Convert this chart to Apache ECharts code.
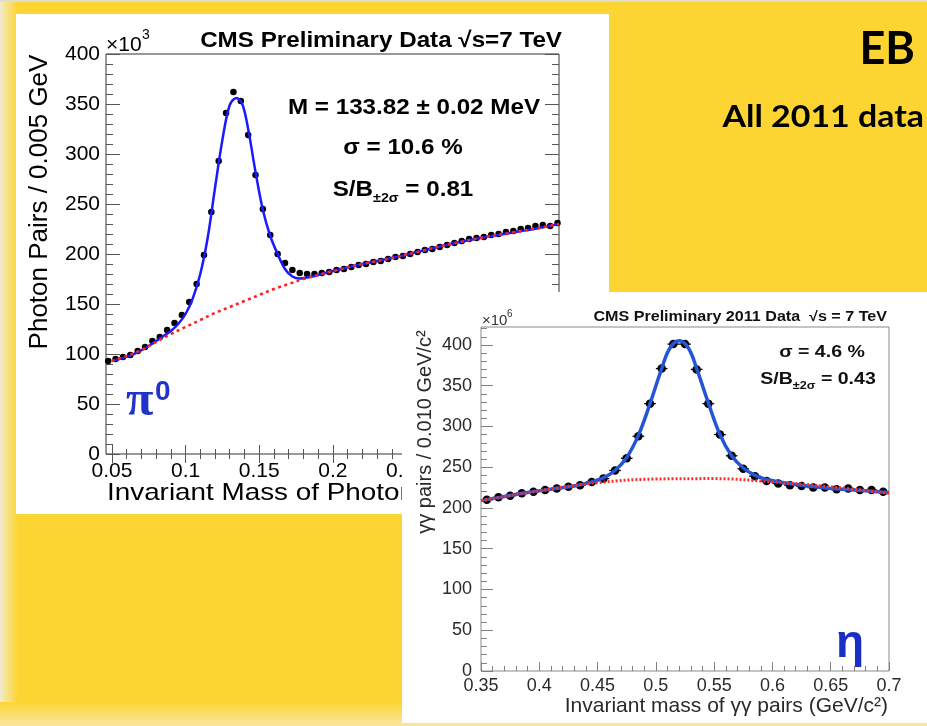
<!DOCTYPE html>
<html>
<head>
<meta charset="utf-8">
<script src="https://cdn.jsdelivr.net/npm/echarts@6/dist/echarts.min.js"></script>
<style>
  html, body { margin: 0; padding: 0; background: #fcd533; overflow: hidden; }
  #main { position: absolute; left: 0; top: 0; width: 927px; height: 726px; }
  #eta { position: absolute; left: 402px; top: 292px; width: 525px; height: 431px; background: #fff; }
</style>
</head>
<body>
<div id="main"></div>
<div id="eta"></div>
<script>
// ---- pi0 panel (EB, photon pairs per 0.005 GeV, x10^3) ----
const pi0Mass = [
  0.0475, 0.0525, 0.0575, 0.0625, 0.0675, 0.0725, 0.0775, 0.0825, 0.0875, 0.0925,
  0.0975, 0.1025, 0.1075, 0.1125, 0.1175, 0.1225, 0.1275, 0.1325, 0.1375, 0.1425,
  0.1475, 0.1525, 0.1575, 0.1625, 0.1675, 0.1725, 0.1775, 0.1825, 0.1875, 0.1925,
  0.1975, 0.2025, 0.2075, 0.2125, 0.2175, 0.2225, 0.2275, 0.2325, 0.2375, 0.2425,
  0.2475, 0.2525, 0.2575, 0.2625, 0.2675, 0.2725, 0.2775, 0.2825, 0.2875, 0.2925,
  0.2975, 0.3025, 0.3075, 0.3125, 0.3175, 0.3225, 0.3275, 0.3325, 0.3375, 0.3425,
  0.3475, 0.3525
];
const pi0Pairs = [
  93, 95, 97, 99, 103, 107, 113, 117, 124, 131,
  139, 152, 170, 199, 242, 293, 341, 362, 353, 319,
  279, 245, 219, 200, 191, 184, 181, 180, 180, 181,
  182, 184, 185, 187, 189, 190, 192, 193, 195, 197,
  198, 200, 202, 204, 205, 207, 209, 211, 213, 215,
  216, 217, 219, 220, 222, 223, 225, 226, 228, 229,
  228, 231
];
// fit (signal + background)
const pi0FitMass = [
  0.05, 0.055, 0.065, 0.075, 0.085, 0.09, 0.095, 0.1, 0.105, 0.11,
  0.115, 0.12, 0.125, 0.13, 0.1345, 0.1385, 0.1425, 0.1475, 0.1525, 0.1575,
  0.1625, 0.1675, 0.1725, 0.1775, 0.1825, 0.19, 0.2, 0.22, 0.24, 0.26,
  0.28, 0.3, 0.32, 0.34, 0.3535
];
const pi0FitPairs = [
  93, 95, 100, 108, 118, 123, 130, 140, 156, 180,
  216, 266, 314, 349, 356, 350, 325, 282, 244, 218,
  200, 185, 177.5, 175.5, 176.5, 179, 183, 190, 196, 203,
  210, 216, 221, 226, 230
];
// background only
const pi0BkgMass = [
  0.05, 0.06, 0.07, 0.08, 0.09, 0.1, 0.11, 0.12, 0.13, 0.14,
  0.15, 0.16, 0.17, 0.18, 0.19, 0.2, 0.22, 0.24, 0.26, 0.28,
  0.3, 0.32, 0.34, 0.3535
];
const pi0BkgPairs = [
  93, 98, 104, 112, 120, 127, 134, 141, 147, 153,
  159, 165, 170, 175, 179, 183, 190, 196, 203, 210,
  216, 221, 226, 230
];
const pi0XTicks = [0.05, 0.1, 0.15, 0.2, 0.25, 0.3, 0.35];
const pi0YTicks = [0, 50, 100, 150, 200, 250, 300, 350, 400];

// ---- eta panel (gamma gamma pairs per 0.010 GeV/c2, x10^6) ----
const etaMass = [
  0.355, 0.365, 0.375, 0.385, 0.395, 0.405, 0.415, 0.425, 0.435, 0.445,
  0.455, 0.465, 0.475, 0.485, 0.495, 0.505, 0.515, 0.525, 0.535, 0.545,
  0.555, 0.565, 0.575, 0.585, 0.595, 0.605, 0.615, 0.625, 0.635, 0.645,
  0.655, 0.665, 0.675, 0.685, 0.695
];
const etaPairs = [
  210, 213, 215, 218, 220, 222, 224, 226, 228, 232,
  236, 246, 261, 288, 328, 371, 401, 401, 370, 328,
  290, 264, 248, 239, 233, 230, 228, 227, 225, 225,
  223, 224, 222, 222, 220
];
const etaFitMass = [
  0.35, 0.37, 0.39, 0.41, 0.43, 0.445, 0.455, 0.465, 0.475, 0.485,
  0.495, 0.505, 0.512, 0.52, 0.528, 0.535, 0.545, 0.555, 0.565, 0.575,
  0.585, 0.595, 0.61, 0.63, 0.65, 0.67, 0.69, 0.7
];
const etaFitPairs = [
  209, 214, 219, 223, 227, 232, 237, 246, 262, 289,
  328, 371, 396, 405, 396, 371, 329, 290, 264, 249,
  240, 235, 231, 227, 224, 222, 220, 219
];
const etaBkgMass = [0.35, 0.4, 0.45, 0.5, 0.55, 0.6, 0.65, 0.7];
const etaBkgPairs = [209, 221, 231, 235.5, 236, 232, 226, 218];
const etaXTicks = [0.35, 0.4, 0.45, 0.5, 0.55, 0.6, 0.65, 0.7];
const etaYTicks = [0, 50, 100, 150, 200, 250, 300, 350, 400];
const etaHalfBin = 0.005;

const SANS = '"Liberation Sans", Arial, Helvetica, sans-serif';
const fmt = v => String(Math.round(v * 100) / 100);

function minorTicks(lo, hi, step) {
  const out = [];
  for (let k = 0; lo + k * step <= hi + 1e-9; k++) out.push(+(lo + k * step).toFixed(4));
  return out;
}

function pairs(xs, ys) {
  return xs.map((x, i) => [x, ys[i]]);
}

// one axis = one tick set; majors and minors are stacked on the same side
function tickAxis(pos, min, max, ticks, len, color, label) {
  return {
    type: 'value', position: pos, min: min, max: max,
    axisLine: { show: false },
    splitLine: { show: false },
    axisTick: { show: true, inside: true, length: len, customValues: ticks, lineStyle: { color: color, width: 1 } },
    axisLabel: label ? Object.assign({ customValues: ticks, formatter: fmt }, label) : { show: false }
  };
}

function txt(x, y, text, size, extra) {
  extra = extra || {};
  const el = {
    type: 'text', x: x, y: y, z: 10,
    style: Object.assign({ text: text, fontFamily: SANS, fontSize: size, fill: '#000', align: 'left', verticalAlign: 'middle' }, extra.style || {})
  };
  if (extra.scaleX) el.scaleX = extra.scaleX;
  if (extra.rotation) el.rotation = extra.rotation;
  return el;
}

// ================= chart 1: page + pi0 =================
const pi0Min = 0.046, pi0Max = 0.3535;
const pi0TickCol = '#555';
const pi0Label = { fontSize: 21, color: '#000', fontFamily: SANS };
const GEO = 'Lato, "DejaVu Sans", sans-serif';

const main = echarts.init(document.getElementById('main'));
main.setOption({
  animation: false,
  graphic: [
    { type: 'rect', z: -20, shape: { x: 0, y: 0, width: 927, height: 726 }, style: { fill: '#fcd533' } },
    { type: 'rect', z: -19, shape: { x: 0, y: 0, width: 18, height: 726 },
      style: { fill: new echarts.graphic.LinearGradient(0, 0, 1, 0, [
        { offset: 0, color: '#efe9d6' }, { offset: 0.2, color: '#f7e6a3' }, { offset: 1, color: '#fcd533' }]) } },
    { type: 'rect', z: -19, shape: { x: 0, y: 702, width: 927, height: 24 },
      style: { fill: new echarts.graphic.LinearGradient(0, 0, 0, 1, [
        { offset: 0, color: '#fcd533' }, { offset: 1, color: '#f8e6a2' }]) } },
    { type: 'rect', z: -18, shape: { x: 0, y: 0, width: 927, height: 2 }, style: { fill: '#e2dccb' } },
    { type: 'rect', z: -15, shape: { x: 16, y: 14, width: 593, height: 500 }, style: { fill: '#ffffff' } },

    txt(562, 41, 'CMS Preliminary Data \u221As=7 TeV', 22, { scaleX: 1.1, style: { fontWeight: 'bold', align: 'right' } }),
    txt(106, 45, '\u00D710', 21),
    txt(142, 35, '3', 14),
    txt(414, 108, 'M = 133.82 \u00B1 0.02 MeV', 22, { scaleX: 1.1, style: { fontWeight: 'bold', align: 'center' } }),
    txt(403, 148, '\u03C3 = 10.6 %', 22, { scaleX: 1.1, style: { fontWeight: 'bold', align: 'center' } }),
    txt(403, 190, '{m|S/B}{s|\u00B12\u03C3}{m| = 0.81}', 22, { scaleX: 1.1, style: { fontWeight: 'bold', align: 'center',
      rich: { m: { fontSize: 22, fontWeight: 'bold', fontFamily: SANS, lineHeight: 30, verticalAlign: 'middle' },
              s: { fontSize: 13, fontWeight: 'bold', fontFamily: SANS, lineHeight: 30, verticalAlign: 'bottom' } } } }),
    txt(126, 402, '\u03C0', 50, { style: { fill: '#2233cc', fontWeight: 'bold', fontFamily: '"Liberation Serif", "DejaVu Serif", serif' } }),
    txt(155, 392, '0', 28, { style: { fill: '#2233cc', fontWeight: 'bold' } }),
    txt(40, 202, 'Photon Pairs / 0.005 GeV', 26, { rotation: Math.PI / 2, style: { align: 'center' } }),
    txt(107, 493, 'Invariant Mass of Photon Pairs (GeV)', 24, { scaleX: 1.16 }),

    txt(915, 49, 'EB', 45, { style: { fontWeight: 'bold', fontFamily: GEO, align: 'right' } }),
    txt(924, 117, 'All 2011 data', 30, { scaleX: 1.13, style: { fontWeight: 'bold', fontFamily: GEO, align: 'right' } })
  ],
  grid: { left: 106, top: 54, width: 453, height: 400, show: true, borderColor: '#333', borderWidth: 1, backgroundColor: 'transparent', outerBoundsMode: 'none' },
  xAxis: [
    tickAxis('bottom', pi0Min, pi0Max, pi0XTicks, 9, pi0TickCol, Object.assign({ margin: 7 }, pi0Label)),
    tickAxis('bottom', pi0Min, pi0Max, minorTicks(0.05, 0.35, 0.01), 5, pi0TickCol),
    tickAxis('top', pi0Min, pi0Max, pi0XTicks, 9, pi0TickCol),
    tickAxis('top', pi0Min, pi0Max, minorTicks(0.05, 0.35, 0.01), 5, pi0TickCol)
  ],
  yAxis: [
    tickAxis('left', 0, 400, pi0YTicks, 14, pi0TickCol, Object.assign({ margin: 6 }, pi0Label)),
    tickAxis('left', 0, 400, minorTicks(0, 400, 10), 7, pi0TickCol),
    tickAxis('right', 0, 400, pi0YTicks, 14, pi0TickCol),
    tickAxis('right', 0, 400, minorTicks(0, 400, 10), 7, pi0TickCol)
  ],
  series: [
    { type: 'scatter', name: 'data', data: pairs(pi0Mass, pi0Pairs), symbolSize: 6.5,
      itemStyle: { color: '#000', opacity: 1 }, z: 3 },
    { type: 'line', name: 'fit', data: pairs(pi0FitMass, pi0FitPairs), smooth: 0.35, showSymbol: false,
      lineStyle: { color: '#1a1aff', width: 2.5 }, z: 4 },
    { type: 'line', name: 'background', data: pairs(pi0BkgMass, pi0BkgPairs), smooth: 0.35, showSymbol: false,
      lineStyle: { color: '#ff2020', width: 2.6, type: [3, 3.5] }, z: 5 }
  ]
});

// ================= chart 2: eta inset =================
const etaTickCol = '#808080';
const etaLabel = { fontSize: 18, color: '#2a2a2a', fontFamily: SANS };

const eta = echarts.init(document.getElementById('eta'));
eta.setOption({
  animation: false,
  graphic: [
    txt(485, 25, 'CMS Preliminary 2011 Data  \u221As = 7 TeV', 14, { scaleX: 1.15, style: { fontWeight: 'bold', align: 'right', fill: '#111' } }),
    txt(80, 29, '\u00D710', 15, { style: { fill: '#333' } }),
    txt(105, 22, '6', 10, { style: { fill: '#333' } }),
    txt(420, 60, '\u03C3 = 4.6 %', 17, { scaleX: 1.15, style: { fontWeight: 'bold', align: 'center', fill: '#111' } }),
    txt(416, 87, '{m|S/B}{s|\u00B12\u03C3}{m| = 0.43}', 17, { scaleX: 1.15, style: { fontWeight: 'bold', align: 'center', fill: '#111',
      rich: { m: { fontSize: 17, fontWeight: 'bold', fontFamily: SANS, lineHeight: 24, verticalAlign: 'middle' },
              s: { fontSize: 11, fontWeight: 'bold', fontFamily: SANS, lineHeight: 24, verticalAlign: 'bottom' } } } }),
    txt(448, 352, '\u03B7', 46, { style: { fill: '#1b2fc4', align: 'center', fontWeight: 'bold' } }),
    txt(23, 140, '\u03B3\u03B3 pairs / 0.010 GeV/c\u00B2', 20, { rotation: Math.PI / 2, style: { align: 'center', fill: '#2a2a2a' } }),
    txt(486, 414, 'Invariant mass of \u03B3\u03B3 pairs (GeV/c\u00B2)', 21, { style: { align: 'right', fill: '#2a2a2a' } })
  ],
  grid: { left: 79, top: 35, width: 408, height: 344, show: true, borderColor: '#8a8a8a', borderWidth: 1, backgroundColor: 'transparent', outerBoundsMode: 'none' },
  xAxis: [
    tickAxis('bottom', 0.35, 0.7, etaXTicks, 9, etaTickCol, Object.assign({ margin: 6 }, etaLabel)),
    tickAxis('bottom', 0.35, 0.7, minorTicks(0.35, 0.7, 0.01), 5, etaTickCol)
  ],
  yAxis: [
    tickAxis('left', 0, 422, etaYTicks, 12, etaTickCol, Object.assign({ margin: 9 }, etaLabel)),
    tickAxis('left', 0, 422, minorTicks(0, 420, 10), 6, etaTickCol)
  ],
  series: [
    { type: 'custom', name: 'bin width', data: pairs(etaMass, etaPairs), z: 3,
      renderItem: (params, api) => {
        const m = api.value(0), v = api.value(1);
        const a = api.coord([m - etaHalfBin, v]);
        const b = api.coord([m + etaHalfBin, v]);
        return { type: 'line', shape: { x1: a[0], y1: a[1], x2: b[0], y2: b[1] }, style: { stroke: '#000', lineWidth: 1.3 } };
      } },
    { type: 'scatter', name: 'data', data: pairs(etaMass, etaPairs), symbolSize: 8.5,
      itemStyle: { color: '#000', opacity: 1 }, z: 4 },
    { type: 'line', name: 'fit', data: pairs(etaFitMass, etaFitPairs), smooth: 0.4, showSymbol: false,
      lineStyle: { color: '#2455d6', width: 3.5 }, z: 5 },
    { type: 'line', name: 'background', data: pairs(etaBkgMass, etaBkgPairs), smooth: 0.4, showSymbol: false,
      lineStyle: { color: '#ff2a2a', width: 3, type: [2, 2] }, z: 6 }
  ]
});
</script>
</body>
</html>
